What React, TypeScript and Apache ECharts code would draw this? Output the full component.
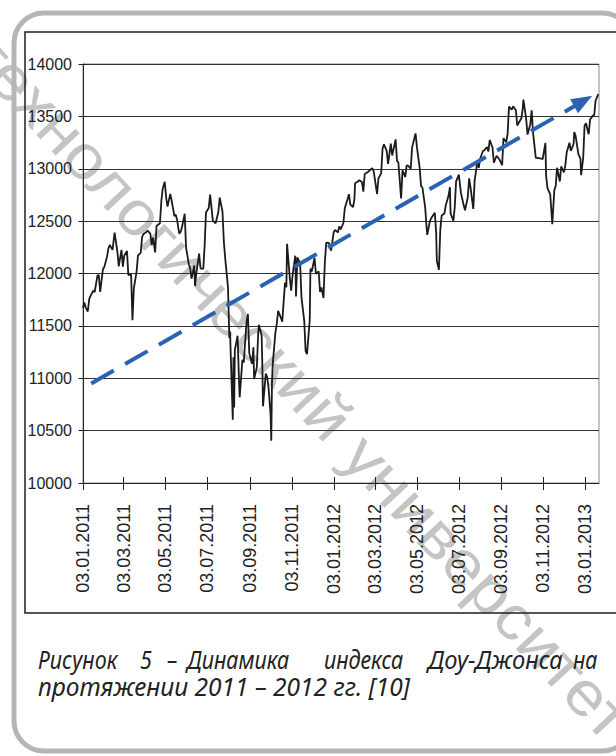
import React, { useEffect, useRef } from 'react';
import * as echarts from 'echarts';

// ---- Data ----
const tickLabels = [
  '03.01.2011', '03.03.2011', '03.05.2011', '03.07.2011', '03.09.2011', '03.11.2011',
  '03.01.2012', '03.03.2012', '03.05.2012', '03.07.2012', '03.09.2012', '03.11.2012',
  '03.01.2013',
];
const xRange: [string, string] = ['2011-01-03', '2013-01-23'];
const yRange = { min: 10000, max: 14000, step: 500 };

const dow2011a: [string, number][] = [
  ['2011-01-03', 11671], ['2011-01-05', 11723], ['2011-01-07', 11675], ['2011-01-10', 11637],
  ['2011-01-12', 11755], ['2011-01-14', 11787], ['2011-01-18', 11837], ['2011-01-20', 11823],
  ['2011-01-24', 11980], ['2011-01-26', 11985], ['2011-01-28', 11824], ['2011-02-01', 12040],
  ['2011-02-03', 12062], ['2011-02-07', 12161], ['2011-02-09', 12240], ['2011-02-11', 12273],
  ['2011-02-15', 12226], ['2011-02-18', 12391], ['2011-02-22', 12212], ['2011-02-24', 12068],
  ['2011-02-28', 12226], ['2011-03-02', 12066], ['2011-03-04', 12170], ['2011-03-08', 12214],
  ['2011-03-10', 11984], ['2011-03-14', 11993], ['2011-03-16', 11555], ['2011-03-18', 11858],
  ['2011-03-22', 12018], ['2011-03-24', 12170], ['2011-03-28', 12198], ['2011-03-30', 12350],
  ['2011-04-01', 12376], ['2011-04-05', 12394], ['2011-04-07', 12409], ['2011-04-11', 12381],
  ['2011-04-13', 12270], ['2011-04-15', 12342], ['2011-04-18', 12202], ['2011-04-20', 12453],
  ['2011-04-25', 12480], ['2011-04-27', 12690], ['2011-04-29', 12811], ['2011-05-02', 12876],
  ['2011-05-04', 12724], ['2011-05-06', 12638], ['2011-05-10', 12760], ['2011-05-12', 12696],
  ['2011-05-16', 12549], ['2011-05-18', 12561], ['2011-05-20', 12512], ['2011-05-23', 12381],
  ['2011-05-25', 12395], ['2011-05-27', 12441], ['2011-05-31', 12570], ['2011-06-02', 12248],
  ['2011-06-06', 12089], ['2011-06-08', 12049], ['2011-06-10', 11952], ['2011-06-14', 12076],
  ['2011-06-15', 11880], ['2011-06-17', 12004], ['2011-06-21', 12190], ['2011-06-23', 12050],
  ['2011-06-27', 12043], ['2011-06-29', 12261],
];

const dow2011b: [string, number][] = [
  ['2011-07-01', 12582], ['2011-07-05', 12626], ['2011-07-07', 12753], ['2011-07-11', 12505],
  ['2011-07-13', 12491], ['2011-07-15', 12479], ['2011-07-19', 12587], ['2011-07-21', 12724],
  ['2011-07-25', 12592], ['2011-07-27', 12302], ['2011-07-29', 12143], ['2011-08-02', 11867],
  ['2011-08-04', 11384], ['2011-08-05', 11445], ['2011-08-08', 10810], ['2011-08-09', 10604],
  ['2011-08-10', 11200], ['2011-08-11', 10720], ['2011-08-12', 11270], ['2011-08-16', 11406],
  ['2011-08-18', 10991], ['2011-08-19', 10818], ['2011-08-23', 11177], ['2011-08-25', 11150],
  ['2011-08-29', 11540], ['2011-08-31', 11614], ['2011-09-02', 11240], ['2011-09-06', 11139],
  ['2011-09-08', 11296], ['2011-09-09', 10992], ['2011-09-13', 11105], ['2011-09-15', 11434],
  ['2011-09-16', 11510], ['2011-09-20', 11408], ['2011-09-21', 11125], ['2011-09-22', 10733],
  ['2011-09-26', 11044], ['2011-09-28', 11011], ['2011-09-30', 10913], ['2011-10-03', 10655],
  ['2011-10-04', 10404], ['2011-10-05', 10940], ['2011-10-06', 11123], ['2011-10-10', 11433],
  ['2011-10-12', 11519], ['2011-10-14', 11644], ['2011-10-18', 11577], ['2011-10-20', 11541],
  ['2011-10-24', 11913], ['2011-10-26', 11869], ['2011-10-27', 12284], ['2011-10-31', 11955],
  ['2011-11-02', 11836], ['2011-11-04', 11983], ['2011-11-08', 12170], ['2011-11-09', 11780],
  ['2011-11-11', 12153], ['2011-11-15', 12096], ['2011-11-17', 11770], ['2011-11-21', 11548],
  ['2011-11-23', 11258], ['2011-11-25', 11231], ['2011-11-29', 11556], ['2011-11-30', 12046],
  ['2011-12-02', 12019], ['2011-12-06', 12150], ['2011-12-08', 11997], ['2011-12-12', 12021],
  ['2011-12-14', 11823], ['2011-12-16', 11867], ['2011-12-19', 11766], ['2011-12-21', 12107],
  ['2011-12-23', 12294], ['2011-12-27', 12291], ['2011-12-30', 12218],
];

const dow2012a: [string, number][] = [
  ['2012-01-03', 12397], ['2012-01-05', 12415], ['2012-01-09', 12392], ['2012-01-11', 12449],
  ['2012-01-13', 12422], ['2012-01-17', 12482], ['2012-01-19', 12623], ['2012-01-23', 12709],
  ['2012-01-25', 12757], ['2012-01-27', 12660], ['2012-01-31', 12633], ['2012-02-02', 12706],
  ['2012-02-03', 12862], ['2012-02-07', 12878], ['2012-02-09', 12891], ['2012-02-13', 12874],
  ['2012-02-15', 12781], ['2012-02-17', 12950], ['2012-02-21', 12966], ['2012-02-24', 12983],
  ['2012-02-28', 13005], ['2012-03-01', 12980], ['2012-03-06', 12759], ['2012-03-08', 12907],
  ['2012-03-12', 12959], ['2012-03-14', 13194], ['2012-03-16', 13233], ['2012-03-20', 13170],
  ['2012-03-22', 13046], ['2012-03-26', 13241], ['2012-03-28', 13127], ['2012-04-02', 13280],
  ['2012-04-04', 13075], ['2012-04-06', 13060], ['2012-04-10', 12716], ['2012-04-12', 12986],
  ['2012-04-16', 12921], ['2012-04-18', 13032], ['2012-04-20', 13029], ['2012-04-24', 13001],
  ['2012-04-26', 13204], ['2012-05-01', 13338], ['2012-05-03', 13206], ['2012-05-07', 13008],
  ['2012-05-09', 12835], ['2012-05-11', 12821], ['2012-05-15', 12632], ['2012-05-17', 12442],
  ['2012-05-18', 12369], ['2012-05-22', 12502], ['2012-05-24', 12529], ['2012-05-29', 12580],
  ['2012-05-31', 12393], ['2012-06-01', 12119], ['2012-06-04', 12035], ['2012-06-06', 12414],
  ['2012-06-08', 12554], ['2012-06-12', 12573], ['2012-06-14', 12651], ['2012-06-18', 12742],
  ['2012-06-20', 12824], ['2012-06-21', 12574], ['2012-06-25', 12503], ['2012-06-27', 12627],
  ['2012-06-29', 12880],
];

const dow2012b: [string, number][] = [
  ['2012-07-03', 12943], ['2012-07-06', 12772], ['2012-07-10', 12653], ['2012-07-12', 12604],
  ['2012-07-16', 12727], ['2012-07-18', 12908], ['2012-07-20', 12822], ['2012-07-24', 12617],
  ['2012-07-26', 12887], ['2012-07-30', 13073], ['2012-08-01', 13008], ['2012-08-03', 13096],
  ['2012-08-07', 13169], ['2012-08-09', 13175], ['2012-08-13', 13208], ['2012-08-15', 13164],
  ['2012-08-17', 13275], ['2012-08-21', 13203], ['2012-08-23', 13057], ['2012-08-27', 13124],
  ['2012-08-29', 13107], ['2012-08-31', 13090], ['2012-09-04', 13035], ['2012-09-06', 13292],
  ['2012-09-10', 13254], ['2012-09-12', 13333], ['2012-09-14', 13593], ['2012-09-18', 13564],
  ['2012-09-20', 13596], ['2012-09-24', 13559], ['2012-09-26', 13413], ['2012-09-28', 13437],
  ['2012-10-02', 13482], ['2012-10-04', 13575], ['2012-10-05', 13661], ['2012-10-09', 13474],
  ['2012-10-11', 13326], ['2012-10-15', 13424], ['2012-10-17', 13557], ['2012-10-19', 13344],
  ['2012-10-23', 13103], ['2012-10-25', 13104], ['2012-10-31', 13096], ['2012-11-02', 13093],
  ['2012-11-06', 13246], ['2012-11-07', 12933], ['2012-11-09', 12815], ['2012-11-13', 12756],
  ['2012-11-16', 12471], ['2012-11-19', 12796], ['2012-11-21', 12836], ['2012-11-23', 13010],
  ['2012-11-27', 12878], ['2012-11-29', 13022], ['2012-12-03', 12966], ['2012-12-05', 13035],
  ['2012-12-07', 13155], ['2012-12-11', 13248], ['2012-12-13', 13171], ['2012-12-17', 13236],
  ['2012-12-18', 13351], ['2012-12-20', 13312], ['2012-12-24', 13139], ['2012-12-27', 13096],
  ['2012-12-28', 12938], ['2012-12-31', 13104],
];

const dow2013: [string, number][] = [
  ['2013-01-02', 13412], ['2013-01-04', 13435], ['2013-01-08', 13329], ['2013-01-10', 13471],
  ['2013-01-14', 13507], ['2013-01-16', 13511], ['2013-01-18', 13649], ['2013-01-22', 13712],
];

const trendLine: [string, number][] = [['2011-01-15', 10950], ['2012-12-31', 13646]];

const captionLine1 = ['Рисунок', '5', '–', 'Динамика', 'индекса', 'Доу-Джонса', 'на'];
const captionLine2 = 'протяжении 2011 – 2012 гг. [10]';
const watermarkText = 'технологический университет';

// ---- helpers ----
const ts = (s: string) => {
  const [y, m, d] = s.split('-').map(Number);
  return new Date(y, m - 1, d).getTime();
};
const tsDMY = (s: string) => {
  const [d, m, y] = s.split('.').map(Number);
  return new Date(y, m - 1, d).getTime();
};
const pad = (n: number) => (n < 10 ? '0' + n : '' + n);
const fmt = (v: number) => {
  const d = new Date(v);
  return pad(d.getDate()) + '.' + pad(d.getMonth() + 1) + '.' + d.getFullYear();
};

// layout constants
const caption1X = [38, 140, 167, 187, 324, 428, 573];
const caption1Scale = [0.86, 0.86, 0.86, 0.86, 0.86, 0.95, 0.86];

export default function App() {
  const ref = useRef<HTMLDivElement>(null);

  useEffect(() => {
    document.body.style.margin = '0';
    if (!ref.current) return;
    const chart = echarts.init(ref.current, undefined, { renderer: 'svg' });

    const series = [...dow2011a, ...dow2011b, ...dow2012a, ...dow2012b, ...dow2013].map(
      ([d, v]) => [ts(d), v]
    );
    const tickValues = tickLabels.map(tsDMY);
    const axisFont = "'Liberation Sans', Arial, sans-serif";

    const baseX = {
      type: 'value',
      gridIndex: 0,
      min: ts(xRange[0]),
      max: ts(xRange[1]),
      scale: true,
      splitLine: { show: false },
      splitArea: { show: false },
    };
    const baseY = {
      type: 'value',
      gridIndex: 0,
      min: yRange.min,
      max: yRange.max,
      interval: yRange.step,
      splitArea: { show: false },
    };

    const textBase = {
      fontSize: 25,
      fontStyle: 'italic',
      fontFamily: "'Noto Sans', sans-serif",
      fill: '#222',
      align: 'left',
      verticalAlign: 'bottom',
      textAlign: 'left',
      textVerticalAlign: 'bottom',
    };
    const captionEls: any[] = captionLine1.map((w, i) => ({
      type: 'text',
      x: caption1X[i],
      y: 672,
      scaleX: caption1Scale[i],
      silent: true,
      style: { ...textBase, text: w },
    }));
    captionEls.push({
      type: 'text',
      x: 38,
      y: 699,
      scaleX: 0.98,
      silent: true,
      style: { ...textBase, text: captionLine2 },
    });

    chart.setOption({
      animation: false,
      backgroundColor: '#fff',
      grid: {
        left: 83,
        top: 64,
        right: 17,
        bottom: 273,
        show: true,
        borderColor: '#8a8a8a',
        borderWidth: 1,
        backgroundColor: 'transparent',
      },
      xAxis: [
        {
          ...baseX,
          position: 'bottom',
          axisLine: { show: true, onZero: false, lineStyle: { color: '#222', width: 1 } },
          axisTick: {
            show: true,
            length: 7,
            customValues: tickValues,
            lineStyle: { color: '#222', width: 1 },
          },
          axisLabel: {
            show: true,
            customValues: tickValues,
            rotate: 90,
            margin: 21,
            fontSize: 18,
            fontFamily: axisFont,
            color: '#222',
            formatter: (v: number) => fmt(v),
          },
        },
        {
          ...baseX,
          position: 'bottom',
          axisLine: { show: false, onZero: false },
          axisTick: {
            show: true,
            inside: true,
            length: 6,
            customValues: tickValues,
            lineStyle: { color: '#222', width: 1 },
          },
          axisLabel: { show: false, customValues: tickValues },
        },
      ],
      yAxis: [
        {
          ...baseY,
          position: 'left',
          axisLine: { show: true, onZero: false, lineStyle: { color: '#222', width: 1 } },
          axisTick: { show: true, length: 4.5, lineStyle: { color: '#222', width: 1 } },
          axisLabel: {
            show: true,
            margin: 11,
            fontSize: 16,
            fontFamily: axisFont,
            color: '#222',
            formatter: (v: number) => String(v),
          },
          splitLine: { show: true, lineStyle: { color: '#333', width: 1 } },
        },
        {
          ...baseY,
          position: 'left',
          axisLine: { show: false, onZero: false },
          axisTick: {
            show: true,
            inside: true,
            length: 4.5,
            lineStyle: { color: '#222', width: 1 },
          },
          axisLabel: { show: false },
          splitLine: { show: false },
        },
      ],
      series: [
        {
          type: 'line',
          name: 'DJIA',
          data: series,
          showSymbol: false,
          symbol: 'none',
          lineStyle: { color: '#1b1b1b', width: 1.8 },
          z: 3,
          silent: true,
          markLine: {
            silent: true,
            symbol: ['none', 'triangle'],
            symbolSize: [16, 21],
            label: { show: false },
            lineStyle: { color: '#2a63b3', width: 4, type: [26, 13], opacity: 1 },
            itemStyle: { color: '#2a63b3' },
            emphasis: { disabled: true },
            data: [
              [
                { coord: [ts(trendLine[0][0]), trendLine[0][1]] },
                { coord: [ts(trendLine[1][0]), trendLine[1][1]] },
              ],
            ],
          },
        },
      ],
      graphic: {
        elements: [
          {
            type: 'text',
            x: -20,
            y: 43,
            rotation: -0.82,
            scaleX: 1.1,
            z: -1,
            silent: true,
            style: {
              text: watermarkText,
              fontSize: 62,
              fontFamily: "'Liberation Sans', Arial, sans-serif",
              fill: '#c4c4c4',
              align: 'left',
              verticalAlign: 'middle',
              textAlign: 'left',
              textVerticalAlign: 'middle',
            },
          },
          {
            type: 'rect',
            silent: true,
            shape: { x: 14, y: 13, width: 618, height: 738, r: 30 },
            style: { fill: 'none', stroke: '#b5b5b5', lineWidth: 5 },
          },
          {
            type: 'rect',
            silent: true,
            shape: { x: 25, y: 32, width: 620, height: 581 },
            style: { fill: 'none', stroke: '#1e1e1e', lineWidth: 1.5 },
          },
          ...captionEls,
        ],
      },
    });

    return () => chart.dispose();
  }, []);

  return <div ref={ref} style={{ width: 616, height: 756 }} />;
}
